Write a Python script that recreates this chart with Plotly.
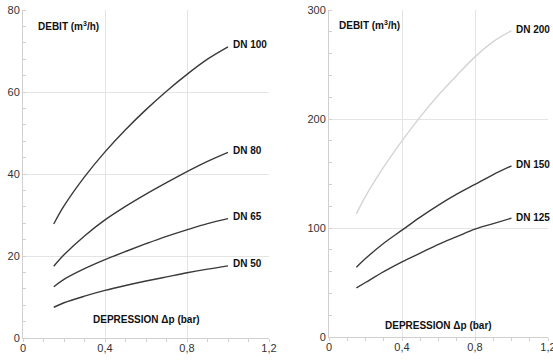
import plotly.graph_objects as go

# Left chart data (DEBIT m3/h vs DEPRESSION bar)
dp = [0.15, 0.2, 0.3, 0.4, 0.5, 0.6, 0.7, 0.8, 0.9, 1.0]
dn100 = [27.8, 32.2, 39.3, 45.4, 50.8, 55.7, 60.2, 64.3, 68.0, 71.0]
dn80 = [17.5, 20.3, 24.9, 28.8, 32.1, 35.1, 37.9, 40.6, 43.1, 45.3]
dn65 = [12.5, 14.3, 16.9, 19.1, 21.1, 23.0, 24.8, 26.4, 27.9, 29.1]
dn50 = [7.5, 8.6, 10.2, 11.6, 12.8, 13.9, 14.9, 15.9, 16.8, 17.6]

# Right chart data
dn200 = [113, 129, 156, 180, 202, 222, 240, 257, 271, 281]
dn150 = [64, 72, 86, 98, 110, 121, 131, 140, 149, 157]
dn125 = [45, 50, 60, 69, 77, 85, 92, 99, 104, 109]

xtick_vals = [0, 0.4, 0.8, 1.2]
xtick_text = ["0", "0,4", "0,8", "1,2"]

W, H = 553, 360


def xd(a, b):
    return [a / W, b / W]


def yd(top, bottom):
    return [1 - bottom / H, 1 - top / H]


dark = "#3a3a3a"
fig = go.Figure()

left_series = [("DN 100", dn100, dark), ("DN 80", dn80, dark), ("DN 65", dn65, dark), ("DN 50", dn50, dark)]
right_series = [("DN 200", dn200, "#d4d4d4"), ("DN 150", dn150, dark), ("DN 125", dn125, dark)]

for name, ys, col in left_series:
    fig.add_trace(go.Scatter(x=dp, y=ys, mode="lines", line=dict(color=col, width=1.4, shape="spline"),
                             xaxis="x", yaxis="y", showlegend=False, hoverinfo="skip"))
    fig.add_annotation(x=dp[-1], y=ys[-1], xref="x", yref="y", text="<b>" + name + "</b>",
                       showarrow=False, xanchor="left", xshift=3, yshift=2,
                       font=dict(size=10, color="#111", family="Arial"))
for name, ys, col in right_series:
    fig.add_trace(go.Scatter(x=dp, y=ys, mode="lines", line=dict(color=col, width=1.4, shape="spline"),
                             xaxis="x2", yaxis="y2", showlegend=False, hoverinfo="skip"))
    fig.add_annotation(x=dp[-1], y=ys[-1], xref="x2", yref="y2", text="<b>" + name + "</b>",
                       showarrow=False, xanchor="left", xshift=2, yshift=1,
                       font=dict(size=10, color="#111", family="Arial"))

grid = "#e4e4e4"
axis_common = dict(showgrid=True, gridcolor=grid, gridwidth=1, zeroline=False, showline=True,
                   linecolor="#d0d0d0", linewidth=1, ticks="", automargin=False,
                   ticklabeloverflow="allow",
                   tickfont=dict(size=11, color="#333", family="Arial"),
                   mirror=False, fixedrange=True)

fig.update_layout(
    width=W, height=H, margin=dict(l=0, r=0, t=0, b=0, autoexpand=False),
    paper_bgcolor="white", plot_bgcolor="white",
    xaxis=dict(domain=xd(23, 269), range=[0, 1.2], tickvals=xtick_vals, ticktext=xtick_text,
               anchor="y", minor=dict(dtick=0.1, ticks="outside", ticklen=3, tickcolor="#d0d0d0"), **axis_common),
    yaxis=dict(domain=yd(10, 338), range=[0, 80], tickvals=[0, 20, 40, 60, 80],
               anchor="x", minor=dict(dtick=4, ticks="inside", ticklen=3, tickcolor="#d0d0d0"), **axis_common),
    xaxis2=dict(domain=xd(329, 548), range=[0, 1.2], tickvals=xtick_vals, ticktext=xtick_text,
                anchor="y2", minor=dict(dtick=0.1, ticks="outside", ticklen=3, tickcolor="#d0d0d0"), **axis_common),
    yaxis2=dict(domain=yd(10, 337), range=[0, 300], tickvals=[0, 100, 200, 300],
                anchor="x2", minor=dict(dtick=20, ticks="inside", ticklen=3, tickcolor="#d0d0d0"), **axis_common),
)

# axis titles inside plots
fig.add_annotation(x=0.065, y=76.0, xref="x", yref="y", text="<b>DEBIT (m<sup>3</sup>/h)</b>", showarrow=False,
                   xanchor="left", yanchor="middle", font=dict(size=10, color="#111", family="Arial"))
fig.add_annotation(x=0.6, y=4.5, xref="x", yref="y", text="<b>DEPRESSION Δp (bar)</b>", showarrow=False,
                   xanchor="center", yanchor="middle", font=dict(size=10, color="#111", family="Arial"))
fig.add_annotation(x=0.045, y=286, xref="x2", yref="y2", text="<b>DEBIT (m<sup>3</sup>/h)</b>", showarrow=False,
                   xanchor="left", yanchor="middle", font=dict(size=10, color="#111", family="Arial"))
fig.add_annotation(x=0.6, y=11, xref="x2", yref="y2", text="<b>DEPRESSION Δp (bar)</b>", showarrow=False,
                   xanchor="center", yanchor="middle", font=dict(size=10, color="#111", family="Arial"))

fig.write_html("out.html", config={"displayModeBar": False},
               post_script="document.body.style.margin='0';document.body.style.overflow='hidden';")
